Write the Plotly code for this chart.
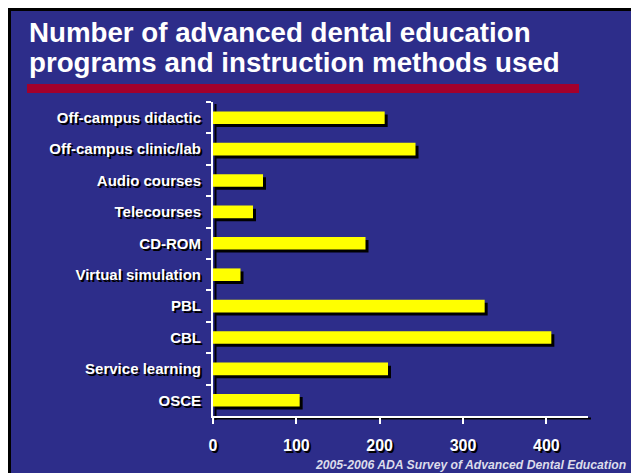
import plotly.graph_objects as go

methods = ["Off-campus didactic", "Off-campus clinic/lab", "Audio courses", "Telecourses",
           "CD-ROM", "Virtual simulation", "PBL", "CBL", "Service learning", "OSCE"]
programs = [206, 243, 60, 48, 183, 33, 326, 406, 210, 104]
x_ticks = [0, 100, 200, 300, 400]

title_lines = ["Number of advanced dental education", "programs and instruction methods used"]
source = "2005-2006 ADA Survey of Advanced Dental Education"

BLUE = "#2d2d8a"
FONT = "Liberation Sans, Arial, sans-serif"
SHADOW = "2px 2px 0px black"

# the page body has an 8px margin, so the figure is 8px smaller
# and every position below is given in window pixels minus 8
OFF = 8
W, H = 639 - OFF, 473 - OFF
# plot area in window pixels: x 213..588, y 102..416
L, R, T, B = 213 - OFF, 639 - 588, 102 - OFF, 473 - 416
pw, ph = W - L - R, H - T - B


def px(x):
    return (x - OFF - L) / pw


def py(y):
    return (H - B - (y - OFF)) / ph


fig = go.Figure()

# drop shadow behind the bars
fig.add_trace(go.Bar(
    y=methods, x=programs, base=3.6, orientation="h",
    width=0.4, offset=-0.2 + 0.096,
    marker=dict(color="black", line=dict(width=0)),
    hoverinfo="skip", showlegend=False,
))
fig.add_trace(go.Bar(
    y=methods, x=programs, orientation="h",
    width=0.4, offset=-0.2,
    marker=dict(color="#ffff00", line=dict(width=0)),
    showlegend=False,
))

fig.update_layout(
    width=W, height=H,
    margin=dict(l=L, r=R, t=T, b=B),
    paper_bgcolor="white",
    plot_bgcolor="rgba(0,0,0,0)",
    barmode="overlay",
    font=dict(family=FONT, color="white"),
    xaxis=dict(
        range=[0, 450], tickvals=x_ticks, showgrid=False, zeroline=False,
        showline=True, linecolor="white", linewidth=2,
        ticks="outside", ticklen=6, tickwidth=2, tickcolor="white",
        ticklabelstandoff=8,
        tickfont=dict(family=FONT, size=16, color="white", weight="bold", shadow=SHADOW),
    ),
    yaxis=dict(
        autorange="reversed", showgrid=False, zeroline=False,
        showline=True, linecolor="white", linewidth=2,
        ticks="outside", ticklen=5, tickwidth=2, tickcolor="white",
        tickson="boundaries", ticklabelstandoff=7,
        tickfont=dict(family=FONT, size=15, color="white", weight="bold", shadow=SHADOW),
    ),
    shapes=[
        dict(type="rect", xref="paper", yref="paper", layer="below",
             x0=px(9.5), x1=px(636), y0=py(490), y1=py(9.5),
             fillcolor=BLUE, line=dict(color="black", width=3)),
        # shadows of the axis lines
        dict(type="line", xref="paper", yref="paper", layer="below",
             x0=px(215.5), x1=px(215.5), y0=py(104), y1=py(420),
             line=dict(color="black", width=2)),
        dict(type="line", xref="paper", yref="paper", layer="below",
             x0=px(215), x1=px(591), y0=py(418.5), y1=py(418.5),
             line=dict(color="black", width=2)),
        dict(type="rect", xref="paper", yref="paper",
             x0=px(27), x1=px(579), y0=py(93), y1=py(84),
             fillcolor="#a3002c", line=dict(width=0)),
    ],
)

for i, line in enumerate(title_lines):
    fig.add_annotation(
        text=line, xref="paper", yref="paper", x=px(27), y=py(33 + 30 * i),
        xanchor="left", yanchor="middle", showarrow=False,
        font=dict(family=FONT, size=27.7, color="white", weight="bold"),
    )

fig.add_annotation(
    text=source, xref="paper", yref="paper", x=px(313), y=py(465),
    xanchor="left", yanchor="middle", showarrow=False,
    font=dict(family=FONT, size=12.2, color="#dcdcea", weight="bold", style="italic"),
)

fig.write_html("out.html")
